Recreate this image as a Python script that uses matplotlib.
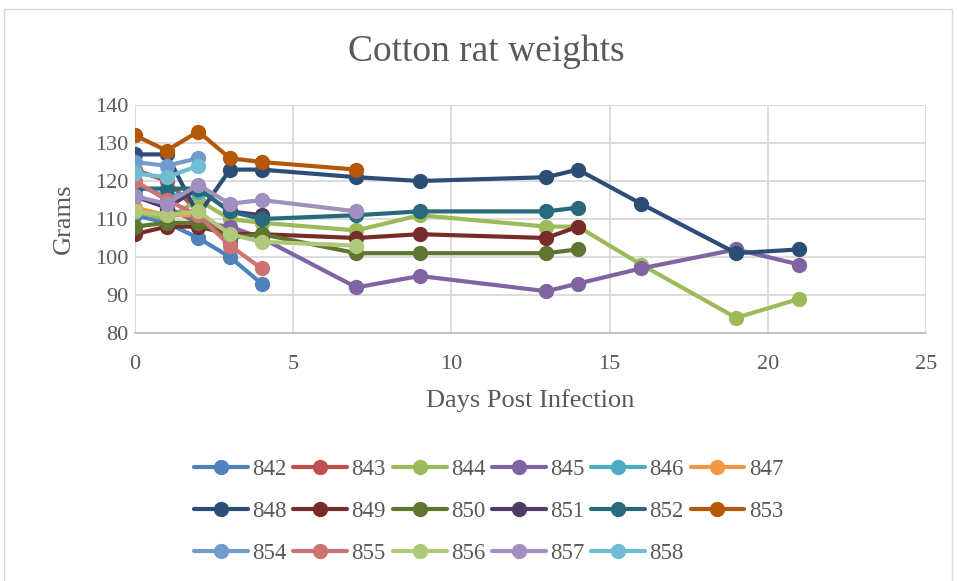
import numpy as np
import matplotlib.pyplot as plt
from matplotlib.patches import Rectangle

plt.rcParams['font.family'] = ['Liberation Serif', 'DejaVu Serif']

# days post infection for each rat
days_short = [0, 1, 2, 3, 4]
days_mid = [0, 1, 2, 3, 4, 7]
days_long = [0, 1, 2, 3, 4, 7, 9, 13, 14]
days_full = [0, 1, 2, 3, 4, 7, 9, 13, 14, 16, 19, 21]

rat_ids = ["842", "843", "844", "845", "846", "847", "848", "849", "850",
           "851", "852", "853", "854", "855", "856", "857", "858"]

w842 = [111, 109, 105, 100, 93]
w843 = [123, 120, 112, 104]
w844 = [112, 110, 115, 110, 109, 107, 111, 108, 108, 98, 84, 89]
w845 = [116, 113, 109, 108, 105, 92, 95, 91, 93, 97, 102, 98]
w846 = [119, 116, 117]
w847 = [113, 111, 111]
w848 = [127, 127, 111, 123, 123, 121, 120, 121, 123, 114, 101, 102]
w849 = [106, 108, 108, 106, 106, 105, 106, 105, 108]
w850 = [108, 109, 109, 105, 106, 101, 101, 101, 102]
w851 = [116, 113, 118, 112, 111]
w852 = [118, 118, 118, 112, 110, 111, 112, 112, 113]
w853 = [132, 128, 133, 126, 125, 123]
w854 = [125, 124, 126]
w855 = [120, 115, 111, 103, 97]
w856 = [112, 111, 112, 106, 104, 103]
w857 = [116, 114, 119, 114, 115, 112]
w858 = [122, 121, 124]

weights = [w842, w843, w844, w845, w846, w847, w848, w849, w850,
           w851, w852, w853, w854, w855, w856, w857, w858]
days = [days_short, days_short[:4], days_full, days_full, days_short[:3],
        days_short[:3], days_full, days_long, days_long, days_short,
        days_long, days_mid, days_short[:3], days_short, days_mid,
        days_mid, days_short[:3]]

colors = ["#4F81BD", "#C0504D", "#9BBB59", "#8064A2", "#4BACC6", "#F79646",
          "#2C4D75", "#772C2A", "#5F7530", "#4D3B62", "#276A7C", "#B65708",
          "#729ACA", "#CD7371", "#AFC97A", "#A18FBF", "#6FBDD3"]

fig = plt.figure(figsize=(9.57, 5.81), dpi=100)
ax = fig.add_axes([135 / 957, 1 - 333 / 581, (926 - 135) / 957, (333 - 105) / 581])

handles = []
for rid, d, w, c in zip(rat_ids, days, weights, colors):
    h, = ax.plot(d, w, color=c, lw=3.0, marker='o', ms=10, label=rid,
                 solid_capstyle='round')
    handles.append(h)

ax.set_xlim(0, 25)
ax.set_ylim(80, 140)
ax.set_xticks(range(0, 26, 5))
ax.set_yticks(range(80, 141, 10))
ax.grid(True, color="#D9D9D9", lw=1.3)
ax.set_axisbelow(True)
for s in ['top', 'right', 'left']:
    ax.spines[s].set_visible(False)
ax.spines['bottom'].set_color("#BFBFBF")
ax.spines['bottom'].set_linewidth(1.3)
ax.tick_params(length=0, labelsize=16, labelcolor="#595959")
ax.tick_params(axis='x', pad=16)
ax.tick_params(axis='y', pad=5)

ax.set_xlabel("Days Post Infection", fontsize=19, color="#595959", labelpad=11)
ax.set_ylabel("Grams", fontsize=19, color="#595959", labelpad=14)
fig.text(486 / 957, 1 - 52 / 581, "Cotton rat weights", fontsize=27,
         color="#595959", ha='center', va='center')

# legend filled row by row (matplotlib fills by column)
order = []
for j in range(6):
    for r in range(3):
        k = j + 6 * r
        if k < len(handles):
            order.append(k)
fig.legend([handles[k] for k in order], [rat_ids[k] for k in order],
           ncol=6, frameon=False, loc='upper left',
           bbox_to_anchor=(194 / 957, 1 - 459 / 581),
           fontsize=16.5, labelcolor="#595959", handlelength=2.35,
           columnspacing=0.29, handletextpad=0.19, labelspacing=0.92,
           borderaxespad=0, borderpad=0)

fig.patches.append(Rectangle((4 / 957, -0.01), 948 / 957, 1 - 9 / 581 + 0.01,
                             transform=fig.transFigure, fill=False,
                             edgecolor="#D9D9D9", lw=1))

fig.savefig("out.png", dpi=100)
